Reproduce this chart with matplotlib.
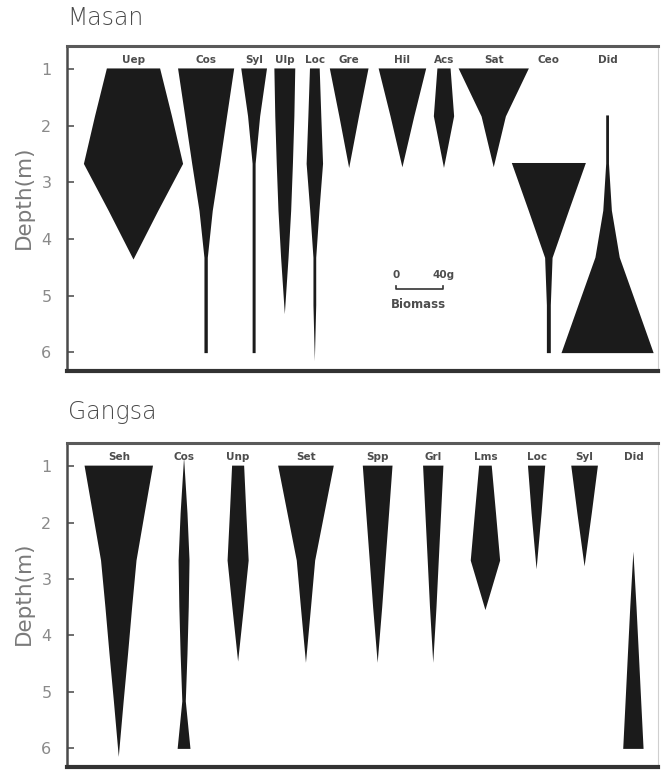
import numpy as np
import matplotlib.pyplot as plt

# -------------------------------------------------------
# DATA  (biomass in g, read at each sampling depth; None = absent)
# -------------------------------------------------------
DEPTHS = [1.0, 1.83, 2.67, 3.5, 4.33, 5.17, 6.0]

MASAN_SPECIES = ['Uep', 'Cos', 'Syl', 'Ulp', 'Loc', 'Gre', 'Hil', 'Acs', 'Sat', 'Ceo', 'Did']
MASAN_BIOMASS = [
    [44.5, 64.5, 83.5, 41.0, 0.0, None, None],    # Uep
    [46.5, 34.5, 22.5, 10.0, 1.5, 1.5, 1.5],      # Cos
    [20.5, 9.0, 1.2, 1.2, 1.2, 1.2, 1.2],         # Syl
    [16.5, 15.0, 12.5, 9.5, 5.0, 0.0, None],      # Ulp
    [7.0, 9.7, 12.7, 6.5, 1.0, 1.0, 0.0],         # Loc
    [31.5, 15.5, 0.0, None, None, None, None],    # Gre
    [39.0, 19.0, 0.0, None, None, None, None],    # Hil
    [10.0, 16.0, 0.0, None, None, None, None],    # Acs
    [58.0, 19.5, 0.0, None, None, None, None],    # Sat
    [None, None, 61.5, 33.0, 5.0, 2.0, 2.0],      # Ceo
    [None, 1.0, 1.0, 6.0, 19.5, 48.5, 77.0],      # Did
]

GANGSA_SPECIES = ['Seh', 'Cos', 'Unp', 'Set', 'Spp', 'Grl', 'Lms', 'Loc', 'Syl', 'Did']
GANGSA_BIOMASS = [
    [57.0, 43.0, 29.0, 21.5, 14.5, 7.0, 0.0],     # Seh
    [0.0, 4.5, 8.0, 6.7, 4.5, 1.6, 9.5],          # Cos
    [9.0, 12.7, 16.7, 8.5, 0.0, None, None],      # Unp
    [46.0, 30.3, 14.4, 7.3, 0.0, None, None],     # Set
    [24.0, 18.2, 12.2, 6.4, 0.0, None, None],     # Spp
    [16.0, 12.1, 8.1, 4.2, 0.0, None, None],      # Grl
    [9.5, 16.7, 23.8, 0.0, None, None, None],     # Lms
    [13.3, 7.2, 0.0, None, None, None, None],     # Loc
    [21.3, 11.0, 0.0, None, None, None, None],    # Syl
    [None, None, 0.0, 4.0, 8.0, 12.0, 16.0],      # Did
]

DEPTH_TICKS = [1, 2, 3, 4, 5, 6]
SCALE_G = 40

# -------------------------------------------------------
# LAYOUT  (kite centres along the x axis, in g)
# -------------------------------------------------------
MASAN_POS = [57.2, 119.4, 160.5, 186.8, 212.5, 241.9, 287.5, 323.1, 365.7, 412.9, 463.2]
GANGSA_POS = [44.6, 100.5, 146.8, 204.9, 266.3, 313.9, 358.6, 402.4, 443.5, 485.3]

X_MAX = 506.4
Y_TOP = 0.59
Y_BOT = 6.33
INK = '#1b1b1b'
LBL = '#4d4d4d'
HALF_STROKE = 0.8     # [px] the kites are outlined with a ~1.6 px mitred pen
MITER_LIMIT = 11


def mitre_outline(ax, xs, ys):
    """Grow the polygon by half a stroke width with mitred corners (in pixels)."""
    pts = ax.transData.transform(np.column_stack([xs, ys]))
    keep = [pts[0]]
    for p in pts[1:]:
        if np.hypot(*(p - keep[-1])) > 1e-6:
            keep.append(p)
    if np.hypot(*(keep[0] - keep[-1])) < 1e-6:
        keep.pop()
    pts = np.array(keep)
    n = len(pts)
    area = np.sum(pts[:, 0] * np.roll(pts[:, 1], -1) - np.roll(pts[:, 0], -1) * pts[:, 1])
    sgn = 1.0 if area > 0 else -1.0
    out = []
    for i in range(n):
        p0, p1, p2 = pts[i - 1], pts[i], pts[(i + 1) % n]
        e1 = (p1 - p0) / np.hypot(*(p1 - p0))
        e2 = (p2 - p1) / np.hypot(*(p2 - p1))
        n1 = sgn * np.array([e1[1], -e1[0]])
        n2 = sgn * np.array([e2[1], -e2[0]])
        denom = 1.0 + n1 @ n2
        if denom < 1e-9:
            off = np.array([0.0, 0.0])
        else:
            off = HALF_STROKE * (n1 + n2) / denom
        mag = np.hypot(*off)
        if mag > MITER_LIMIT * HALF_STROKE:
            off = off / mag * MITER_LIMIT * HALF_STROKE
        out.append(p1 + off)
    return ax.transData.inverted().transform(np.array(out))


def draw_kites(ax, names, biomass, centres):
    d = np.array(DEPTHS)
    for name, vals, xc in zip(names, biomass, centres):
        ok = [i for i, v in enumerate(vals) if v is not None]
        w = np.array([vals[i] for i in ok], dtype=float) / 2.0
        dd = d[ok]
        xs = np.concatenate([xc - w, (xc + w)[::-1]])
        ys = np.concatenate([dd, dd[::-1]])
        poly = mitre_outline(ax, xs, ys)
        ax.fill(poly[:, 0], poly[:, 1], color=INK, lw=0)
        ax.text(xc, 0.84, name, ha='center', va='center', fontsize=7.5,
                fontweight='bold', color=LBL)


def style_axes(ax):
    ax.set_xticks([])
    ax.set_yticks(DEPTH_TICKS)
    ax.tick_params(axis='y', direction='in', length=5, width=1.2,
                   color='#555555', pad=11, labelsize=11.5, labelcolor='#8a8a8a')
    ax.set_ylabel('Depth(m)', fontsize=15.5, color='#7a7a7a')
    ax.yaxis.set_label_coords(-0.056, 0.535)
    ax.spines['top'].set_linewidth(2.2)
    ax.spines['top'].set_color('#5a5a5a')
    ax.spines['bottom'].set_linewidth(3)
    ax.spines['bottom'].set_color('#333333')
    ax.spines['left'].set_linewidth(1.8)
    ax.spines['left'].set_color('#4a4a4a')
    ax.spines['right'].set_linewidth(0.8)
    ax.spines['right'].set_color('#cfcfcf')


def main():
    fig = plt.figure(figsize=(6.63, 7.71), dpi=100)

    ax1 = fig.add_axes([0.1006, 0.5188, 0.8919, 0.4215])
    ax1.set_xlim(0, X_MAX)
    ax1.set_ylim(Y_BOT, Y_TOP)
    draw_kites(ax1, MASAN_SPECIES, MASAN_BIOMASS, MASAN_POS)
    style_axes(ax1)

    # -- scale bar --
    x0, y0 = 282.4, 4.88
    ax1.plot([x0, x0, x0 + SCALE_G, x0 + SCALE_G],
             [y0 - 0.06, y0, y0, y0 - 0.06], color='#333333', lw=1.2)
    ax1.text(x0, 4.63, '0', ha='center', va='center', fontsize=7.5,
             fontweight='bold', color=LBL)
    ax1.text(x0 + SCALE_G, 4.63, f'{SCALE_G}g', ha='center', va='center',
             fontsize=7.5, fontweight='bold', color=LBL)
    ax1.text(x0 + SCALE_G / 2 - 1, 5.16, 'Biomass', ha='center', va='center',
             fontsize=8.5, fontweight='bold', color=LBL)

    ax2 = fig.add_axes([0.1006, 0.0056, 0.8919, 0.4194])
    ax2.set_xlim(0, X_MAX)
    ax2.set_ylim(Y_BOT, Y_TOP)
    draw_kites(ax2, GANGSA_SPECIES, GANGSA_BIOMASS, GANGSA_POS)
    style_axes(ax2)

    fig.text(0.102, 0.977, 'Masan', fontsize=17, color='#4a4a4a',
             fontweight='light', ha='left', va='center')
    fig.text(0.102, 0.466, 'Gangsa', fontsize=17, color='#4a4a4a',
             fontweight='light', ha='left', va='center')

    fig.savefig('out.png', dpi=100)


if __name__ == '__main__':
    main()
